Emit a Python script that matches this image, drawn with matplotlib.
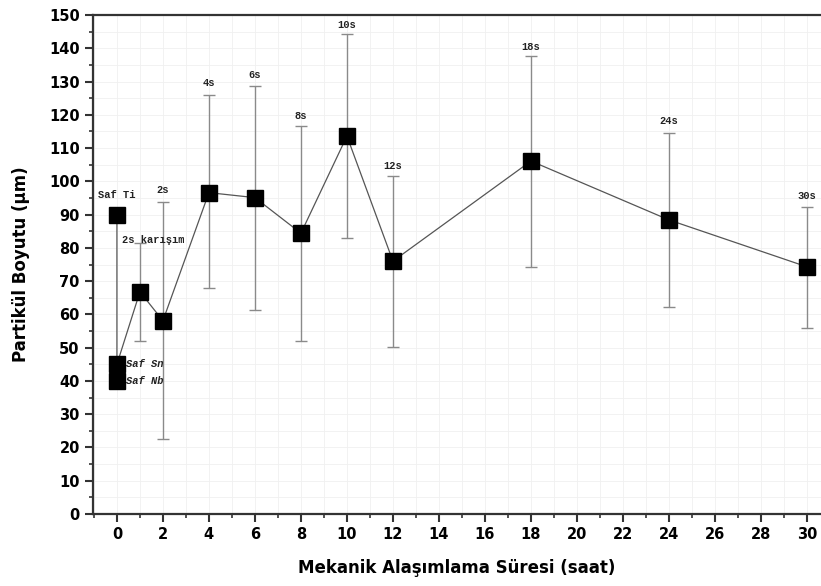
import matplotlib
matplotlib.use("Agg")
import matplotlib.pyplot as plt
from matplotlib.ticker import MultipleLocator

# Mekanik alaşımlama süresi (saat) ve partikül boyutu (um)
sure = [0, 0, 1, 2, 4, 6, 8, 10, 12, 18, 24, 30]
boyut = [90, 45, 66.8, 58.1, 96.6, 95.1, 84.4, 113.6, 76.0, 106.1, 88.4, 74.3]

# Hata çubukları (alt / üst uçlar)
hata_x = [1, 2, 4, 6, 8, 10, 12, 18, 24, 30]
hata_y = [66.8, 58.1, 96.6, 95.1, 84.4, 113.6, 76.0, 106.1, 88.4, 74.3]
hata_alt = [52.0, 22.4, 67.8, 61.3, 52.0, 82.9, 50.3, 74.3, 62.3, 56.0]
hata_ust = [81.5, 93.8, 126.1, 128.6, 116.6, 144.2, 101.6, 137.7, 114.4, 92.4]

# Saf Nb (bağlantısız nokta)
nb_x, nb_y = [0], [40]

# Etiketler
etiketler = ["Saf Ti", "2s karışım", "2s", "4s", "6s", "8s", "10s", "12s",
             "18s", "24s", "30s"]
etiket_x = [0, 1.6, 2, 4, 6, 8, 10, 12, 18, 24, 30]
etiket_y = [96, 82.5, 97.5, 129.5, 132, 119.5, 147, 104.5, 140.5, 118, 95.5]

fig = plt.figure(figsize=(8.21, 5.86), dpi=100)
ax = fig.add_axes([93 / 821, 72 / 586, 1 - 93 / 821, 499 / 586])

ax.set_xlim(-1.04, 30.61)
ax.set_ylim(0, 150)

ax.grid(True, which="both", color="#f0f0f0", linewidth=0.6, zorder=0)
ax.set_axisbelow(True)

err_low = [y - a for y, a in zip(hata_y, hata_alt)]
err_high = [u - y for y, u in zip(hata_y, hata_ust)]
ax.errorbar(hata_x, hata_y, yerr=[err_low, err_high], fmt="none",
            ecolor="#8a8a8a", elinewidth=1.0, capsize=4, capthick=1.0, zorder=2)

ax.plot(sure, boyut, color="#555555", linewidth=0.9, zorder=3)
ax.plot(sure, boyut, "s", color="black", markersize=11, linestyle="none", zorder=4)
ax.plot(nb_x, nb_y, "s", color="black", markersize=11, linestyle="none", zorder=4)

for t, x, y in zip(etiketler, etiket_x, etiket_y):
    ax.text(x, y, t, ha="center", va="center", fontsize=7.5, fontweight="bold",
            family="Liberation Mono", color="#222222", zorder=5)

ax.text(0.4, 45, "Saf Sn", ha="left", va="center", fontsize=7.5, fontweight="bold",
        style="italic", family="Liberation Mono", color="#222222", zorder=5)
ax.text(0.4, 40, "Saf Nb", ha="left", va="center", fontsize=7.5, fontweight="bold",
        style="italic", family="Liberation Mono", color="#222222", zorder=5)

ax.xaxis.set_major_locator(MultipleLocator(2))
ax.xaxis.set_minor_locator(MultipleLocator(1))
ax.yaxis.set_major_locator(MultipleLocator(10))
ax.yaxis.set_minor_locator(MultipleLocator(5))

ax.tick_params(which="major", direction="out", length=6, width=1.5,
               labelsize=10.5, color="#333333")
ax.tick_params(which="minor", direction="out", length=3, width=1.2, color="#333333")
for lab in ax.get_xticklabels() + ax.get_yticklabels():
    lab.set_fontweight("bold")

for s in ["left", "bottom", "top"]:
    ax.spines[s].set_linewidth(1.6)
    ax.spines[s].set_color("#333333")
ax.spines["right"].set_visible(False)

ax.set_xlabel("Mekanik Alaşımlama Süresi (saat)", fontsize=12, fontweight="bold",
              labelpad=12)
ax.set_ylabel("Partikül Boyutu (\u03bcm)", fontsize=12, fontweight="bold",
              labelpad=14)

fig.savefig("out.png", dpi=100)
